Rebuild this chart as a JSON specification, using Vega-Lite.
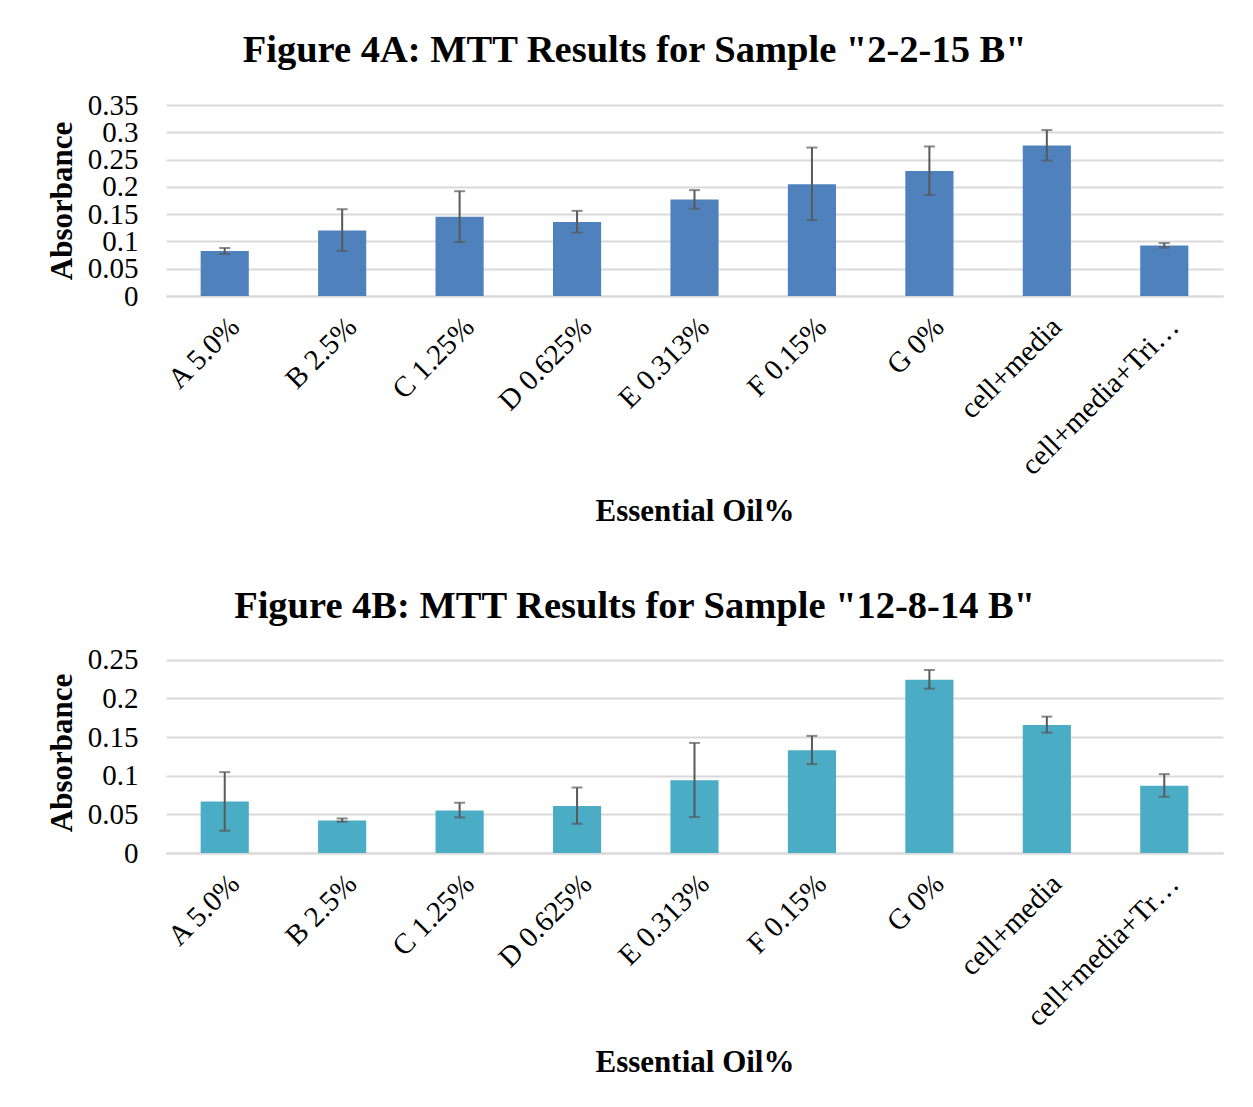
{
  "$schema": "https://vega.github.io/schema/vega-lite/v6.json",
  "background": "white",
  "padding": {"left": 46, "top": 30, "right": 28, "bottom": 10},
  "datasets": {
    "a": [
      {"group": "A 5.0%", "absorbance": 0.0825, "lo": 0.077, "hi": 0.088},
      {"group": "B 2.5%", "absorbance": 0.120, "lo": 0.0825, "hi": 0.159},
      {"group": "C 1.25%", "absorbance": 0.145, "lo": 0.099, "hi": 0.192},
      {"group": "D 0.625%", "absorbance": 0.1356, "lo": 0.116, "hi": 0.156},
      {"group": "E 0.313%", "absorbance": 0.1767, "lo": 0.160, "hi": 0.194},
      {"group": "F 0.15%", "absorbance": 0.205, "lo": 0.139, "hi": 0.272},
      {"group": "G 0%", "absorbance": 0.229, "lo": 0.185, "hi": 0.274},
      {"group": "cell+media", "absorbance": 0.2756, "lo": 0.248, "hi": 0.304},
      {"group": "cell+media+Triton X-100", "absorbance": 0.0924, "lo": 0.0887, "hi": 0.097}
    ],
    "b": [
      {"group": "A 5.0%", "absorbance": 0.0666, "lo": 0.0288, "hi": 0.1046},
      {"group": "B 2.5%", "absorbance": 0.042, "lo": 0.0404, "hi": 0.0447},
      {"group": "C 1.25%", "absorbance": 0.055, "lo": 0.046, "hi": 0.065},
      {"group": "D 0.625%", "absorbance": 0.0607, "lo": 0.0378, "hi": 0.0847},
      {"group": "E 0.313%", "absorbance": 0.0942, "lo": 0.0465, "hi": 0.1424},
      {"group": "F 0.15%", "absorbance": 0.133, "lo": 0.115, "hi": 0.1515},
      {"group": "G 0%", "absorbance": 0.2242, "lo": 0.2126, "hi": 0.2367},
      {"group": "cell+media", "absorbance": 0.1657, "lo": 0.1557, "hi": 0.1764},
      {"group": "cell+media+Triton X-100", "absorbance": 0.0869, "lo": 0.0727, "hi": 0.102}
    ]
  },
  "config": {
    "font": "Liberation Serif",
    "view": {"stroke": null},
    "axis": {
      "labelFont": "Liberation Serif",
      "titleFont": "Liberation Serif",
      "labelColor": "#000000",
      "titleColor": "#000000",
      "gridColor": "#d9d9d9",
      "gridWidth": 2,
      "ticks": false
    },
    "axisY": {
      "labelOverlap": false,
      "labelFlush": false,
      "format": "~g",
      "domain": false,
      "labelFontSize": 29,
      "labelPadding": 28,
      "titleFontSize": 31,
      "titleFontWeight": "bold",
      "titlePadding": 9
    },
    "title": {
      "font": "Liberation Serif",
      "fontSize": 38.5,
      "fontWeight": "bold",
      "color": "#000000",
      "anchor": "middle",
      "frame": "bounds",
      "baseline": "alphabetic"
    },
    "concat": {"spacing": 60}
  },
  "vconcat": [
    {
      "title": {"text": "Figure 4A: MTT Results for Sample \"2-2-15 B\"", "offset": 21},
      "width": 1057,
      "height": 191,
      "data": {"name": "a"},
      "encoding": {
        "x": {
          "field": "group", "type": "nominal", "sort": null,
          "scale": {"paddingInner": 0.59, "paddingOuter": 0.295},
          "axis": {
            "title": "Essential Oil%", "titleFontSize": 31, "titleFontWeight": "bold", "titlePadding": 16,
            "labelAngle": -45, "labelFontSize": 29, "labelPadding": 16, "labelLimit": 212,
            "domainColor": "#d9d9d9", "domainWidth": 2, "grid": false
          }
        }
      },
      "layer": [
        {
          "mark": {"type": "bar", "color": "#4F81BD"},
          "encoding": {
            "y": {
              "field": "absorbance", "type": "quantitative",
              "scale": {"domain": [0, 0.35]},
              "axis": {"title": "Absorbance", "labelOverlap": false, "values": [0, 0.05, 0.1, 0.15, 0.2, 0.25, 0.3, 0.35]}
            }
          }
        },
        {
          "mark": {"type": "rule", "color": "#595959", "strokeWidth": 2},
          "encoding": {
            "y": {"field": "lo", "type": "quantitative", "axis": {"title": "Absorbance", "labelOverlap": false, "values": [0, 0.05, 0.1, 0.15, 0.2, 0.25, 0.3, 0.35]}},
            "y2": {"field": "hi"}
          }
        },
        {
          "mark": {"type": "tick", "color": "#595959", "thickness": 2, "size": 11, "orient": "horizontal"},
          "encoding": {"y": {"field": "lo", "type": "quantitative", "axis": {"title": "Absorbance", "labelOverlap": false, "values": [0, 0.05, 0.1, 0.15, 0.2, 0.25, 0.3, 0.35]}}}
        },
        {
          "mark": {"type": "tick", "color": "#595959", "thickness": 2, "size": 11, "orient": "horizontal"},
          "encoding": {"y": {"field": "hi", "type": "quantitative", "axis": {"title": "Absorbance", "labelOverlap": false, "values": [0, 0.05, 0.1, 0.15, 0.2, 0.25, 0.3, 0.35]}}}
        }
      ]
    },
    {
      "title": {"text": "Figure 4B: MTT Results for Sample \"12-8-14 B\"", "offset": 19},
      "width": 1057,
      "height": 201,
      "data": {"name": "b"},
      "encoding": {
        "x": {
          "field": "group", "type": "nominal", "sort": null,
          "scale": {"paddingInner": 0.59, "paddingOuter": 0.295},
          "axis": {
            "title": "Essential Oil%", "titleFontSize": 31, "titleFontWeight": "bold", "titlePadding": 16,
            "labelAngle": -45, "labelFontSize": 29, "labelPadding": 16, "labelLimit": 204,
            "domainColor": "#d9d9d9", "domainWidth": 2, "grid": false
          }
        }
      },
      "layer": [
        {
          "mark": {"type": "bar", "color": "#4BACC6"},
          "encoding": {
            "y": {
              "field": "absorbance", "type": "quantitative",
              "scale": {"domain": [0, 0.25]},
              "axis": {"title": "Absorbance", "labelOverlap": false, "values": [0, 0.05, 0.1, 0.15, 0.2, 0.25]}
            }
          }
        },
        {
          "mark": {"type": "rule", "color": "#595959", "strokeWidth": 2},
          "encoding": {
            "y": {"field": "lo", "type": "quantitative", "axis": {"title": "Absorbance", "labelOverlap": false, "values": [0, 0.05, 0.1, 0.15, 0.2, 0.25]}},
            "y2": {"field": "hi"}
          }
        },
        {
          "mark": {"type": "tick", "color": "#595959", "thickness": 2, "size": 11, "orient": "horizontal"},
          "encoding": {"y": {"field": "lo", "type": "quantitative", "axis": {"title": "Absorbance", "labelOverlap": false, "values": [0, 0.05, 0.1, 0.15, 0.2, 0.25]}}}
        },
        {
          "mark": {"type": "tick", "color": "#595959", "thickness": 2, "size": 11, "orient": "horizontal"},
          "encoding": {"y": {"field": "hi", "type": "quantitative", "axis": {"title": "Absorbance", "labelOverlap": false, "values": [0, 0.05, 0.1, 0.15, 0.2, 0.25]}}}
        }
      ]
    }
  ]
}
